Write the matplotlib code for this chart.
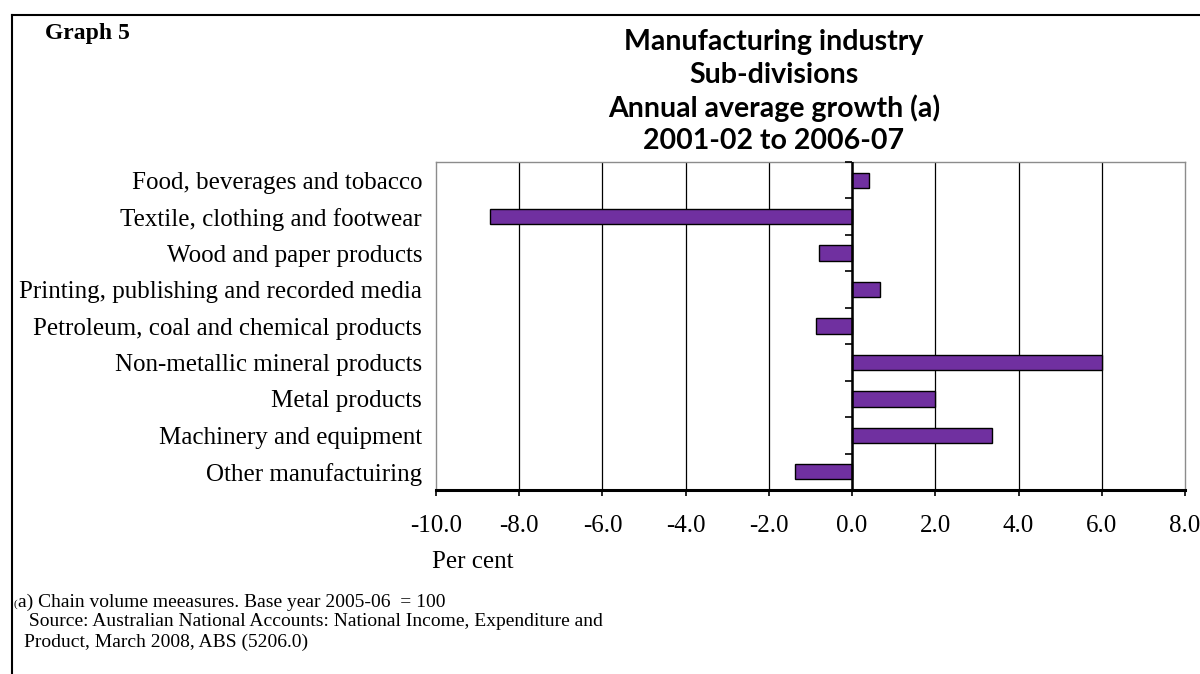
import numpy as np
import matplotlib
matplotlib.use("Agg")
import matplotlib.pyplot as plt
from matplotlib.lines import Line2D
from matplotlib.markers import TICKLEFT

categories = [
    "Food, beverages and tobacco",
    "Textile, clothing and footwear",
    "Wood and paper products",
    "Printing, publishing and recorded media",
    "Petroleum, coal and chemical products",
    "Non-metallic mineral products",
    "Metal products",
    "Machinery and equipment",
    "Other manufactuiring",
]
growth = [0.40, -8.70, -0.80, 0.67, -0.86, 6.00, 1.98, 3.36, -1.38]
xticks = [-10.0, -8.0, -6.0, -4.0, -2.0, 0.0, 2.0, 4.0, 6.0, 8.0]

title_lines = [
    "Manufacturing industry",
    "Sub-divisions",
    "Annual average growth (a)",
    "2001-02 to 2006-07",
]

W, H = 1200, 674
fig = plt.figure(figsize=(W / 100, H / 100), dpi=100)
SERIF = ["Liberation Serif", "DejaVu Serif"]

def fx(px):
    return px / W

def fy(py):
    return 1 - py / H

# outer frame: top and left rules
fig.add_artist(Line2D([fx(12), 1.0], [fy(15), fy(15)], color="black", lw=1.5,
                      transform=fig.transFigure))
fig.add_artist(Line2D([fx(12), fx(12)], [fy(15), 0.0], color="black", lw=1.5,
                      transform=fig.transFigure))

ax = fig.add_axes([fx(436), fy(490), fx(1185) - fx(436), (490 - 162) / H])

y = np.arange(len(categories))
ax.barh(y, growth, height=0.42, color="#7030A0", edgecolor="black", linewidth=1.0,
        zorder=3)

ax.set_xlim(xticks[0], xticks[-1])
ax.set_ylim(len(categories) - 0.5, -0.5)

ax.set_xticks(xticks)
ax.set_xticklabels([f"{v:.1f}" for v in xticks], fontfamily=SERIF, fontsize=18)
ax.tick_params(axis="x", direction="out", length=4, width=1.2, color="black",
               pad=14)

ax.set_yticks(y)
ax.set_yticklabels(categories, fontfamily=SERIF, fontsize=18)
ax.tick_params(axis="y", length=0, pad=10)

# vertical gridlines
for v in xticks[1:-1]:
    ax.axvline(v, color="black", lw=0.9, zorder=1)

# zero line with category separators
ax.axvline(0, color="black", lw=1.8, zorder=4)
bounds = np.arange(len(categories) + 1) - 0.5
ax.plot(np.zeros_like(bounds), bounds, linestyle="none", marker=TICKLEFT,
        markersize=5, markeredgewidth=1.2, color="black", zorder=4, clip_on=False)

for side in ("left", "right", "top"):
    ax.spines[side].set_color("#8c8c8c")
    ax.spines[side].set_linewidth(1.0)
ax.spines["bottom"].set_color("black")
ax.spines["bottom"].set_linewidth(2.2)

# titles
fig.text(fx(45), fy(33), "Graph 5", fontfamily=SERIF, fontweight="bold",
         fontsize=17, ha="left", va="center")
for i, line in enumerate(title_lines):
    fig.text(fx(774), fy(42 + 33 * i), line, fontfamily=["Lato", "DejaVu Sans"],
             fontweight="bold", fontsize=20.5, ha="center", va="center")

fig.text(fx(432), fy(562), "Per cent", fontfamily=SERIF, fontsize=18,
         ha="left", va="center")

# footnotes
fig.text(fx(14), fy(604), "(", fontfamily=SERIF, fontsize=8, ha="left", va="center")
fig.text(fx(18), fy(602), "a) Chain volume meeasures. Base year 2005-06  = 100",
         fontfamily=SERIF, fontsize=14, ha="left", va="center")
fig.text(fx(24), fy(622), " Source: Australian National Accounts: National Income, Expenditure and",
         fontfamily=SERIF, fontsize=14, ha="left", va="center")
fig.text(fx(24), fy(642), "Product, March 2008, ABS (5206.0)",
         fontfamily=SERIF, fontsize=14, ha="left", va="center")

fig.savefig("out.png", dpi=100, facecolor="white")
